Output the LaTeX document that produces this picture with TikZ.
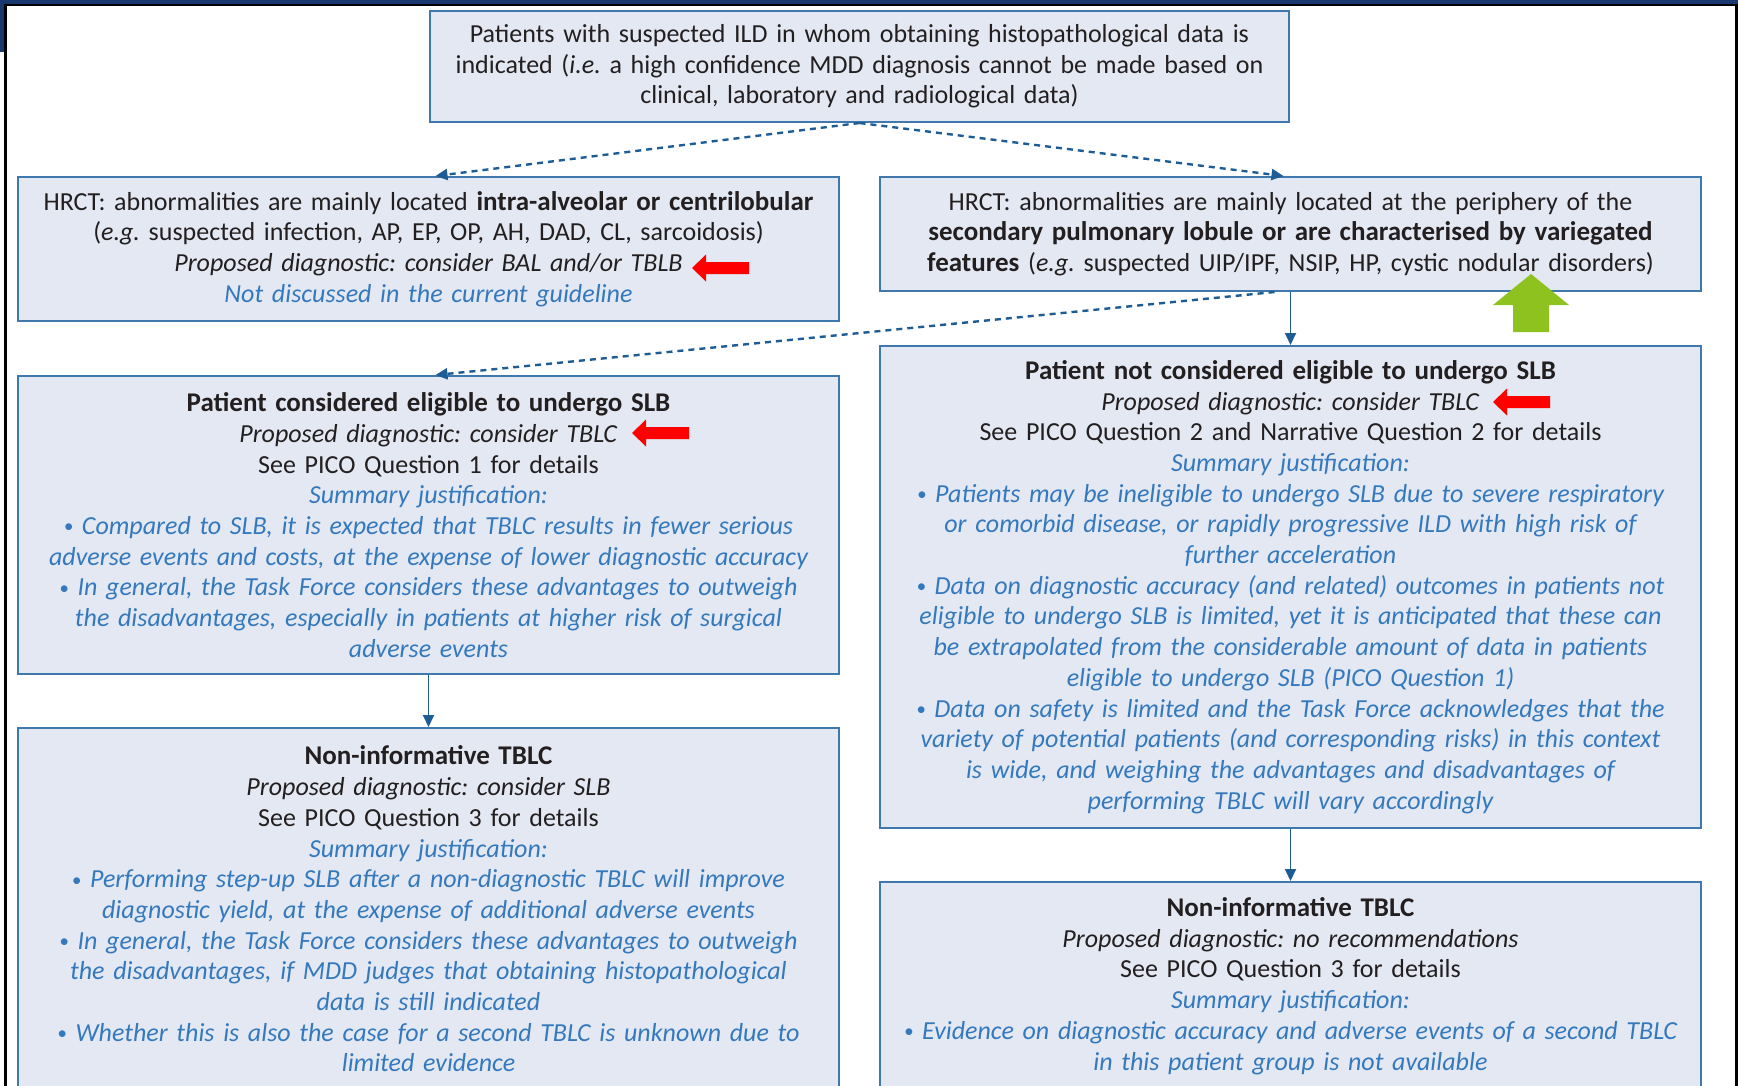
\documentclass[tikz,border=0pt]{standalone}
\usepackage{fontspec}
\setmainfont{Carlito}
\usetikzlibrary{arrows.meta}
\definecolor{navy}{HTML}{18386E}
\definecolor{boxfill}{HTML}{E3E8F2}
\definecolor{boxborder}{HTML}{3F78AD}
\definecolor{conn}{HTML}{1D5C94}
\definecolor{tblue}{HTML}{3479BD}
\definecolor{tdark}{HTML}{231F20}
\definecolor{arred}{HTML}{FF0000}
\definecolor{argreen}{HTML}{8DC21F}
\newcommand\bl[1]{\textcolor{tblue}{\itshape #1}}
\newcommand\bd[1]{{\fontsize{27pt}{30.7pt}\selectfont\bfseries #1}}
\newcommand\bul{\raisebox{1.5pt}{\fontsize{19pt}{19pt}\selectfont\textbullet}\ }
\newcommand\redarr[1]{\fill[arred] (#1) -- ++(14,-13.5) -- ++(0,7.5) -- ++(43,0) -- ++(0,12) -- ++(-43,0) -- ++(0,7.5) -- cycle;}
\frenchspacing
\begin{document}
\begin{tikzpicture}[x=1pt,y=-1pt,
  box/.style={draw=boxborder, fill=boxfill, line width=2pt, inner sep=0pt,
    align=center, text width=#1, text=tdark,
    font=\fontsize{26pt}{30.7pt}\selectfont\frenchspacing},
  dconn/.style={draw=conn, line width=2.4pt, dash pattern=on 6pt off 5pt,
    -{Triangle[length=12pt,width=11pt]}},
  sconn/.style={draw=conn, line width=1.8pt,
    -{Triangle[length=12pt,width=11pt]}}]
\useasboundingbox (0,0) rectangle (1738,1085);
\fill[white] (0,0) rectangle (1738,1085);
% outer frame
\fill[navy] (0,0) rectangle (1738,4);
\fill[navy] (0,0) rectangle (4,52);
\draw[black, line width=2.5pt] (5.3,1100) -- (5.3,5) -- (1736.5,5) -- (1736.5,1100);

\node[box=850pt, minimum width=859pt, minimum height=111pt] (top) at (859.5,66.5)
 {Patients with suspected ILD in whom obtaining histopathological data is\\
  indicated (\textit{i.e.} a high confidence MDD diagnosis cannot be made based on\\
  clinical, laboratory and radiological data)};

\node[box=815pt, minimum width=821pt, minimum height=144pt] (hl) at (428.5,249)
 {HRCT: abnormalities are mainly located \bd{intra-alveolar or centrilobular}\\
  (\textit{e.g.} suspected infection, AP, EP, OP, AH, DAD, CL, sarcoidosis)\\
  \textit{Proposed diagnostic: consider BAL and/or TBLB}\\
  \bl{Not discussed in the current guideline}};

\node[box=815pt, minimum width=821pt, minimum height=114pt] (hr) at (1290.5,234)
 {HRCT: abnormalities are mainly located at the periphery of the\\
  \bd{secondary pulmonary lobule or are characterised by variegated}\\
  \bd{features} (\textit{e.g.} suspected UIP/IPF, NSIP, HP, cystic nodular disorders)};

\node[box=815pt, minimum width=821pt, minimum height=298pt] (ls) at (428.5,525)
 {\bd{Patient considered eligible to undergo SLB}\\
  \textit{Proposed diagnostic: consider TBLC}\\
  See PICO Question 1 for details\\
  \bl{Summary justification:}\\
  \bl{\bul Compared to SLB, it is expected that TBLC results in fewer serious}\\
  \bl{adverse events and costs, at the expense of lower diagnostic accuracy}\\
  \bl{\bul In general, the Task Force considers these advantages to outweigh}\\
  \bl{the disadvantages, especially in patients at higher risk of surgical}\\
  \bl{adverse events}};

\node[box=815pt, minimum width=821pt, minimum height=482pt] (rs) at (1290.5,587)
 {\bd{Patient not considered eligible to undergo SLB}\\
  \textit{Proposed diagnostic: consider TBLC}\\
  See PICO Question 2 and Narrative Question 2 for details\\
  \bl{Summary justification:}\\
  \bl{\bul Patients may be ineligible to undergo SLB due to severe respiratory}\\
  \bl{or comorbid disease, or rapidly progressive ILD with high risk of}\\
  \bl{further acceleration}\\
  \bl{\bul Data on diagnostic accuracy (and related) outcomes in patients not}\\
  \bl{eligible to undergo SLB is limited, yet it is anticipated that these can}\\
  \bl{be extrapolated from the considerable amount of data in patients}\\
  \bl{eligible to undergo SLB (PICO Question 1)}\\
  \bl{\bul Data on safety is limited and the Task Force acknowledges that the}\\
  \bl{variety of potential patients (and corresponding risks) in this context}\\
  \bl{is wide, and weighing the advantages and disadvantages of}\\
  \bl{performing TBLC will vary accordingly}};

\node[box=815pt, minimum width=821pt, minimum height=362pt] (ln) at (428.5,909)
 {\bd{Non-informative TBLC}\\
  \textit{Proposed diagnostic: consider SLB}\\
  See PICO Question 3 for details\\
  \bl{Summary justification:}\\
  \bl{\bul Performing step-up SLB after a non-diagnostic TBLC will improve}\\
  \bl{diagnostic yield, at the expense of additional adverse events}\\
  \bl{\bul In general, the Task Force considers these advantages to outweigh}\\
  \bl{the disadvantages, if MDD judges that obtaining histopathological}\\
  \bl{data is still indicated}\\
  \bl{\bul Whether this is also the case for a second TBLC is unknown due to}\\
  \bl{limited evidence}};

\node[box=815pt, minimum width=821pt, minimum height=208pt] (rn) at (1290.5,986)
 {\bd{Non-informative TBLC}\\
  \textit{Proposed diagnostic: no recommendations}\\
  See PICO Question 3 for details\\
  \bl{Summary justification:}\\
  \bl{\bul Evidence on diagnostic accuracy and adverse events of a second TBLC}\\
  \bl{in this patient group is not available}};

% connectors
\draw[dconn] (top.south) -- ([xshift=7pt]hl.north);
\draw[dconn] (top.south) -- ([xshift=-7pt]hr.north);
\draw[dconn] ([xshift=-16pt]hr.south) -- ([xshift=7pt]ls.north);
\draw[sconn] (hr.south) -- (rs.north);
\draw[sconn] (ls.south) -- (ln.north);
\draw[sconn] (rs.south) -- (rn.north);

% highlight arrows
\redarr{692,268}
\redarr{632,433}
\redarr{1493,402}
\fill[argreen] (1531,274) -- (1569,305) -- (1549,305) -- (1549,332) -- (1513,332) -- (1513,305) -- (1493,305) -- cycle;
\end{tikzpicture}
\end{document}
